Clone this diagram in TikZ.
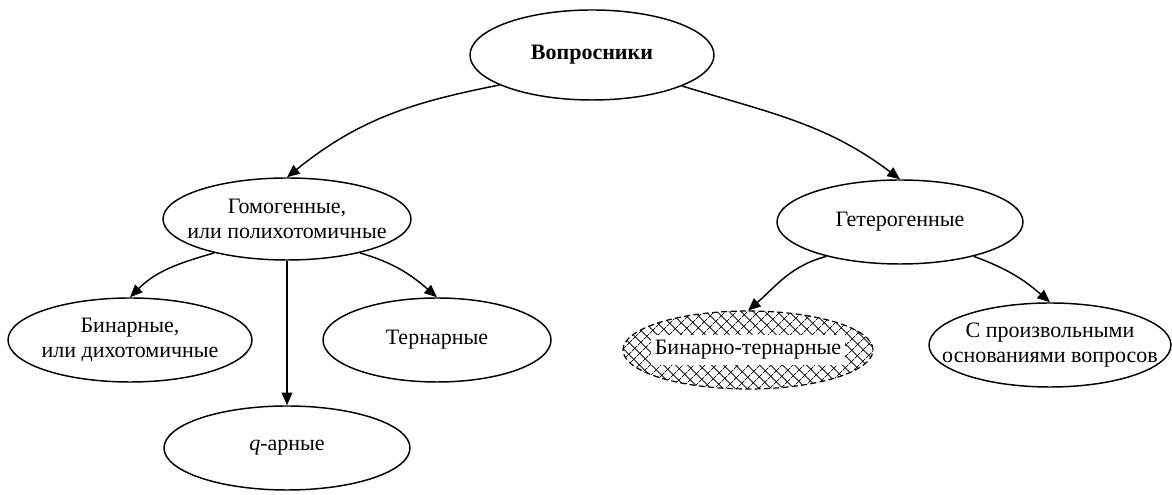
\documentclass[tikz,border=0pt]{standalone}
\usepackage{fontspec}
\setmainfont{Liberation Serif}
\usetikzlibrary{shapes.geometric, arrows.meta, patterns.meta}
\begin{document}
\begin{tikzpicture}[x=0.75pt, y=0.75pt,
  txt/.style={font=\fontsize{16.5}{18.5}\selectfont},
  ell/.style 2 args={ellipse, draw, line width=1.1pt, minimum width=#1*0.75pt, minimum height=#2*0.75pt, inner sep=-20pt, align=center, txt},
  arr/.style={line width=1.1pt, -{Triangle[length=9.5pt,width=8pt]}},
  hatched/.style={dashed, dash pattern=on 4.5pt off 2.5pt, line width=0.9pt, pattern={Hatch[angle=45,distance=6.5pt,line width=0.6pt]}}
]
\useasboundingbox (0,0) rectangle (1172,495);
\node[ell={244}{90}] (top) at (592,440) {\textbf{Вопросники}};
\node[ell={248}{82}] (gom) at (287,276) {Гомогенные,\\или полихотомичные};
\node[ell={246}{84}] (get) at (900,273) {Гетерогенные};
\node[ell={244}{84}] (bin) at (130,155) {Бинарные,\\или дихотомичные};
\node[ell={228}{84}] (ter) at (437,155) {Тернарные};
\node[ell={246}{84}] (q) at (287,47) {\textit{q}-арные};
\node[ell={250}{78}, hatched, label={[fill=white, inner xsep=3pt, inner ysep=4pt, txt]center:Бинарно-тернарные}] (bt) at (748,145) {};
\node[ell={242}{84}] (arb) at (1050,150) {С произвольными\\основаниями вопросов};
\draw[arr] (top.198) to[out=191, in=39] (gom.north);
\draw[arr] (top.341) to[out=-17, in=143] (get.north);
\draw[arr] (gom.205) to[out=196, in=45] (bin.north);
\draw[arr] (gom.335) to[out=-16, in=139] (ter.north);
\draw[arr] (gom.south) -- (q.north);
\draw[arr] (get.205) to[out=195, in=41] (bt.north);
\draw[arr] (get.335) to[out=-20, in=139] (arb.north);
\end{tikzpicture}
\end{document}
